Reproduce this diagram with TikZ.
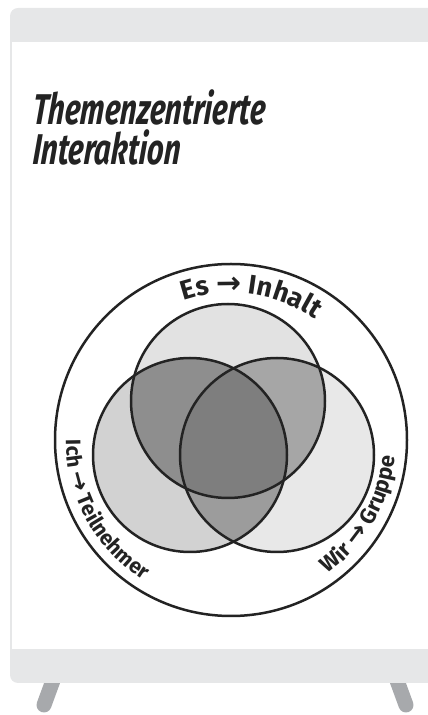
\documentclass[tikz,border=0pt]{standalone}
\usepackage{fontspec}
\setmainfont{Fira Sans}
\newfontfamily\arrowfont{DejaVu Sans}
\usetikzlibrary{decorations.text}

\definecolor{framegray}{HTML}{E6E7E8}
\definecolor{leggray}{HTML}{A7A9AC}
\definecolor{ink}{HTML}{232323}
\definecolor{esfill}{HTML}{E2E2E2}
\definecolor{ichfill}{HTML}{D2D2D2}
\definecolor{wirfill}{HTML}{E8E8E8}
\definecolor{esich}{HTML}{8E8E8E}
\definecolor{eswir}{HTML}{A6A6A6}
\definecolor{ichwir}{HTML}{9C9C9C}
\definecolor{allthree}{HTML}{7E7E7E}

\newcommand\lbl[1]{\fontsize{#1}{#1}\selectfont\bfseries\rmfamily\color{ink}}
\newcommand\arr[1]{\fontsize{#1}{#1}\selectfont\bfseries\arrowfont\color{ink}}

\tikzset{
  ring/.style={draw=ink, line width=2.5pt},
  titletext/.style={font=\fontsize{43}{43}\selectfont\bfseries\itshape, text=ink,
    inner sep=0pt, anchor=base west, xscale=0.68, xslant=0.12},
  leg/.style={draw=leggray, line width=15pt, line cap=round},
}

\begin{document}
\begin{tikzpicture}[x=1pt, y=1pt]
	\useasboundingbox (0,0) rectangle (428,715);
	\clip (0,0) rectangle (428,715);
	
	% flipchart stand
	\draw[leg] (55,40) -- (44,10);
	\draw[leg] (395,40) -- (406,10);
	\fill[framegray, rounded corners=8pt] (10,32) rectangle (460,707);
	\fill[white] (12,66) rectangle (460,673);
	
	% title
	\node[titletext] (thema) at (32,590) {Themenzentrierte};
	\node[titletext] (interaktion) at (32,550) {Interaktion};
	
	% circles
	\coordinate (mid) at (231,275);
	\coordinate (es) at (228,314);
	\coordinate (ich) at (190,260);
	\coordinate (wir) at (277,260);
	
	\fill[esfill] (es) circle (97pt);
	\fill[ichfill] (ich) circle (97pt);
	\fill[wirfill] (wir) circle (97pt);
	\begin{scope}
		\clip (es) circle (97pt);
		\fill[esich] (ich) circle (97pt);
		\fill[eswir] (wir) circle (97pt);
	\end{scope}
	\begin{scope}
		\clip (ich) circle (97pt);
		\fill[ichwir] (wir) circle (97pt);
	\end{scope}
	\begin{scope}
		\clip (es) circle (97pt);
		\clip (ich) circle (97pt);
		\fill[allthree] (wir) circle (97pt);
	\end{scope}
	
	\draw[ring] (mid) circle (176pt);
	\draw[ring] (es) circle (97pt);
	\draw[ring] (ich) circle (97pt);
	\draw[ring] (wir) circle (97pt);
	
	% labels on the ring
	\path[decorate, decoration={text along path, text align=center,
		text={|\lbl{27}|Es |\arr{30}|→|\lbl{27}| Inhalt}}]
		(mid) ++(118:147pt) arc[start angle=118, end angle=46, radius=147pt];
	\path[decorate, decoration={text along path, text align=center,
		text={|\lbl{21}|Ich |\arr{24}|→|\lbl{21}| Teilnehmer}}]
		(mid) ++(176:165pt) arc[start angle=176, end angle=242, radius=165pt];
	\path[decorate, decoration={text along path, text align=center,
		text={|\lbl{22}|Wir |\arr{25}|→|\lbl{22}| Gruppe}}]
		(mid) ++(-63:165pt) arc[start angle=-63, end angle=3, radius=165pt];
	
\end{tikzpicture}
\end{document}
